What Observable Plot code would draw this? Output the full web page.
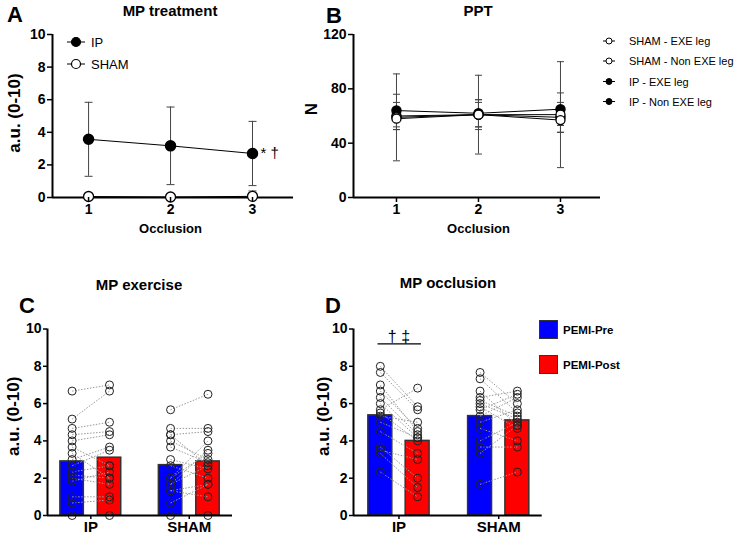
<!DOCTYPE html>
<html><head><meta charset="utf-8">
<script src="https://cdn.jsdelivr.net/npm/d3@7"></script>
<script src="https://cdn.jsdelivr.net/npm/@observablehq/plot@0.6"></script>
<style>
body{margin:0;background:#fff;}
#wrap{position:relative;width:749px;height:534px;overflow:hidden;background:#fff;font-family:"Liberation Sans",Arial,sans-serif;}
.p{position:absolute;}
#overlay{position:absolute;left:0;top:0;pointer-events:none;}
</style></head><body><div id="wrap"></div>
<script>
// ---------- Panel A: MP treatment (a.u. 0-10) ----------
const occlusions = [1, 2, 3];
const treatIPMean = [3.57, 3.17, 2.70];
const treatIPSD = [2.27, 2.38, 1.97];
const treatShamMean = [0.06, 0.03, 0.07];
const treatShamSD = [0.20, 0.10, 0.33];

// ---------- Panel B: PPT (N) ----------
const pptSeries = ["SHAM - EXE leg", "SHAM - Non EXE leg", "IP - EXE leg", "IP - Non EXE leg"];
const pptShamExeMean = [59, 61, 61], pptShamExeSD = [32, 29, 39];
const pptShamNonMean = [58, 61, 57], pptShamNonSD = [8, 9, 9];
const pptIPExeMean = [64, 62, 65], pptIPExeSD = [12, 10, 12];
const pptIPNonMean = [60, 61, 59], pptIPNonSD = [10, 11, 11];

// ---------- Panels C & D ----------
const groups = ["IP", "SHAM"];
const phases = ["PEMI-Pre", "PEMI-Post"];

// C: MP exercise
const exMeans = [2.9, 3.1, 2.7, 2.9]; // IP-Pre, IP-Post, SHAM-Pre, SHAM-Post
const exIPPre   = [6.67, 5.17, 4.67, 4.33, 4.0, 3.67, 3.33, 3.0, 2.67, 2.33, 2.17, 2.0, 1.83, 1.0, 0.67, 0];
const exIPPost  = [7.0, 6.67, 5.0, 4.5, 4.33, 2.67, 2.0, 3.67, 3.5, 2.67, 2.0, 1.67, 2.33, 1.0, 0.83, 0];
const exShamPre = [5.67, 4.67, 4.33, 4.33, 4.0, 3.67, 3.0, 2.67, 2.0, 2.0, 1.67, 1.67, 1.33, 1.33, 0.67, 0];
const exShamPost= [6.5, 4.67, 4.5, 2.67, 3.0, 2.83, 2.5, 2.0, 3.33, 4.0, 3.5, 2.67, 1.67, 1.0, 1.67, 0];

// D: MP occlusion
const occMeans = [5.37, 4.0, 5.33, 5.1];
const occIPPre   = [8.0, 7.67, 7.0, 6.67, 6.33, 6.0, 5.67, 5.5, 5.33, 5.0, 4.5, 3.67, 3.5, 3.33, 2.33];
const occIPPost  = [5.83, 5.67, 4.5, 4.67, 4.33, 4.17, 6.83, 4.0, 5.0, 4.17, 3.33, 2.0, 3.0, 1.5, 1.0];
const occShamPre = [7.67, 7.33, 6.67, 6.33, 6.17, 6.0, 5.83, 5.67, 5.33, 5.0, 4.67, 4.0, 3.67, 3.33, 1.67];
const occShamPost= [6.0, 5.5, 4.83, 6.67, 5.33, 5.17, 4.67, 6.5, 6.33, 5.67, 4.0, 5.0, 3.67, 4.83, 2.33];

const FONT = '"Liberation Sans", Arial, Helvetica, sans-serif';
const baseStyle = {fontFamily: FONT, fontSize: "14px", fontWeight: "bold", color: "black", background: "transparent", overflow: "visible"};
const capSym = {draw(ctx, size) { const w = Math.sqrt(size / Math.PI); ctx.moveTo(-w, 0); ctx.lineTo(w, 0); }};

const wrap = document.getElementById("wrap");
function place(el, left, top) {
  const d = document.createElement("div");
  d.className = "p"; d.style.left = left + "px"; d.style.top = top + "px";
  d.appendChild(el); wrap.appendChild(d);
}

// ---------- Panel A ----------
const rowsA = [];
occlusions.forEach((o, i) => {
  rowsA.push({occ: o, group: "IP", mean: treatIPMean[i], sd: treatIPSD[i]});
  rowsA.push({occ: o, group: "SHAM", mean: treatShamMean[i], sd: treatShamSD[i]});
});
const xDomA = [0.56, 3.5];
const plotA = Plot.plot({
  width: 300, height: 240, marginLeft: 52, marginRight: 7, marginTop: 34, marginBottom: 43,
  style: baseStyle,
  x: {domain: xDomA, label: null},
  y: {domain: [0, 10], label: null},
  marks: [
    Plot.ruleX(rowsA, {x: "occ", y1: d => Math.max(0, d.mean - d.sd), y2: d => d.mean + d.sd, stroke: "#444", strokeWidth: 1}),
    Plot.dot(rowsA, {x: "occ", y: d => d.mean + d.sd, symbol: capSym, r: 4, fill: "none", stroke: "#444", strokeWidth: 1}),
    Plot.dot(rowsA.filter(d => d.mean - d.sd > 0), {x: "occ", y: d => d.mean - d.sd, symbol: capSym, r: 4, fill: "none", stroke: "#444", strokeWidth: 1}),
    Plot.line(rowsA, {x: "occ", y: "mean", z: "group", stroke: "black", strokeWidth: 1}),
    Plot.ruleY([0], {strokeWidth: 2}),
    Plot.ruleX([xDomA[0]], {strokeWidth: 2}),
    Plot.dot(rowsA.filter(d => d.group === "SHAM"), {x: "occ", y: "mean", r: 5, fill: "white", stroke: "black", strokeWidth: 1.3}),
    Plot.dot(rowsA.filter(d => d.group === "IP"), {x: "occ", y: "mean", r: 5, fill: "black", stroke: "black"}),
    Plot.axisY({ticks: [0, 2, 4, 6, 8, 10], tickSize: 5, tickPadding: 2, strokeWidth: 1.5}),
    Plot.axisX({ticks: occlusions, tickFormat: d => String(d), tickSize: 5, tickPadding: 2, strokeWidth: 1.5}),
    Plot.text(["a.u. (0-10)"], {frameAnchor: "left", rotate: -90, textAnchor: "middle", lineAnchor: "middle", dx: -38, dy: -3, fontSize: 17}),
    Plot.text(["Occlusion"], {x: [2], frameAnchor: "bottom", textAnchor: "middle", lineAnchor: "middle", dy: 31, fontSize: 13}),
    Plot.text(rowsA.filter(d => d.group === "IP" && d.occ === 3), {x: "occ", y: "mean", text: () => "* †", textAnchor: "start", lineAnchor: "middle", dx: 8, dy: 0, fontSize: 15, fontWeight: "normal", fill: "black"})
  ]
});
place(plotA, 0, 0);

// ---------- Panel B ----------
const pptMeans = [pptShamExeMean, pptShamNonMean, pptIPExeMean, pptIPNonMean];
const pptSDs = [pptShamExeSD, pptShamNonSD, pptIPExeSD, pptIPNonSD];
const rowsB = [];
pptSeries.forEach((s, si) => occlusions.forEach((o, i) => rowsB.push({series: s, ip: s.startsWith("IP"), occ: o, mean: pptMeans[si][i], sd: pptSDs[si][i]})));
const xDomB = [0.476, 3.488];
const plotB = Plot.plot({
  width: 300, height: 240, marginLeft: 53, marginRight: 0, marginTop: 34, marginBottom: 43,
  style: baseStyle,
  x: {domain: xDomB, label: null},
  y: {domain: [0, 120], label: null},
  marks: [
    Plot.ruleX(rowsB, {x: "occ", y1: d => d.mean - d.sd, y2: d => d.mean + d.sd, stroke: "#444", strokeWidth: 1}),
    Plot.dot(rowsB, {x: "occ", y: d => d.mean + d.sd, symbol: capSym, r: 3.5, fill: "none", stroke: "#444", strokeWidth: 1}),
    Plot.dot(rowsB, {x: "occ", y: d => d.mean - d.sd, symbol: capSym, r: 3.5, fill: "none", stroke: "#444", strokeWidth: 1}),
    Plot.line(rowsB, {x: "occ", y: "mean", z: "series", stroke: "black", strokeWidth: 1}),
    Plot.ruleY([0], {strokeWidth: 2}),
    Plot.ruleX([xDomB[0]], {strokeWidth: 2}),
    Plot.dot(rowsB.filter(d => d.ip), {x: "occ", y: "mean", r: 4.5, fill: "black", stroke: "black"}),
    Plot.dot(rowsB.filter(d => !d.ip), {x: "occ", y: "mean", r: 4.5, fill: "white", stroke: "black", strokeWidth: 1.3}),
    Plot.axisY({ticks: [0, 40, 80, 120], tickSize: 5, tickPadding: 2, strokeWidth: 1.5}),
    Plot.axisX({ticks: occlusions, tickFormat: d => String(d), tickSize: 5, tickPadding: 2, strokeWidth: 1.5}),
    Plot.text(["N"], {frameAnchor: "left", rotate: -90, textAnchor: "middle", lineAnchor: "middle", dx: -42, dy: -7, fontSize: 17}),
    Plot.text(["Occlusion"], {x: [2], frameAnchor: "bottom", textAnchor: "middle", lineAnchor: "middle", dy: 31, fontSize: 13})
  ]
});
place(plotB, 300, 0);

// ---------- Panels C & D ----------
function pairedPlot({means, pre, post, xDom, off, half, width, marginRight, yTitleDx, sig}) {
  const bars = [];
  groups.forEach((g, gi) => phases.forEach((p, pi) => bars.push({g, gi, p, pi, mean: means[gi * 2 + pi]})));
  const links = [], dots = [];
  groups.forEach((g, gi) => {
    pre[gi].forEach((v, i) => {
      links.push({x1: gi - off, y1: v, x2: gi + off, y2: post[gi][i]});
      dots.push({x: gi - off, y: v});
      dots.push({x: gi + off, y: post[gi][i]});
    });
  });
  const marks = [
    Plot.rectY(bars, {x1: d => d.gi + (d.pi ? off : -off) - half, x2: d => d.gi + (d.pi ? off : -off) + half, y1: 0, y2: "mean", fill: "p", stroke: "#333", strokeWidth: 1.5}),
    Plot.link(links, {x1: "x1", y1: "y1", x2: "x2", y2: "y2", stroke: "#9a9a9a", strokeWidth: 1, strokeDasharray: "1.5,1.5"}),
    Plot.dot(dots, {x: "x", y: "y", r: 4, fill: "none", stroke: "#222", strokeWidth: 1}),
    Plot.ruleY([0], {strokeWidth: 2}),
    Plot.ruleX([xDom[0]], {strokeWidth: 2}),
    Plot.axisY({ticks: [0, 2, 4, 6, 8, 10], tickSize: 4, tickPadding: 2, strokeWidth: 1.5}),
    Plot.axisX({ticks: [0, 1], tickFormat: i => groups[i], tickSize: 4, tickPadding: 2, strokeWidth: 1.5, fontSize: 15}),
    Plot.text(["a.u. (0-10)"], {frameAnchor: "left", rotate: -90, textAnchor: "middle", lineAnchor: "middle", dx: yTitleDx, dy: -6, fontSize: 17})
  ];
  if (sig) {
    marks.push(Plot.ruleY([sig.y], {x1: sig.x1, x2: sig.x2, stroke: "black", strokeWidth: 1.2}));
    marks.push(Plot.text([sig], {x: "x", y: "y", text: "label", textAnchor: "middle", lineAnchor: "middle", dy: -7, fontSize: 16, fontWeight: "normal", fill: "black"}));
  }
  return Plot.plot({
    width, height: 244, marginLeft: 47, marginRight, marginTop: 38.5, marginBottom: 19,
    style: baseStyle,
    x: {domain: xDom, label: null},
    y: {domain: [0, 10], label: null},
    color: {domain: phases, range: ["#0000ff", "#ff0000"]},
    marks
  });
}

const plotC = pairedPlot({
  means: exMeans, pre: [exIPPre, exShamPre], post: [exIPPost, exShamPost],
  xDom: [-0.44, 1.439], off: 0.19, half: 0.119, width: 240, marginRight: 8, yTitleDx: -33.5
});
place(plotC, 0, 290);

const plotD = pairedPlot({
  means: occMeans, pre: [occIPPre, occShamPre], post: [occIPPost, occShamPost],
  xDom: [-0.456, 1.436], off: 0.187, half: 0.12, width: 240, marginRight: 4.3, yTitleDx: -30,
  sig: {x: 0, y: 9.2, x1: -0.21, x2: 0.225, label: "† ‡"}
});
place(plotD, 306, 290);

// ---------- Titles, panel letters, legends ----------
const NS = "http://www.w3.org/2000/svg";
const ov = document.createElementNS(NS, "svg");
ov.setAttribute("id", "overlay"); ov.setAttribute("width", 749); ov.setAttribute("height", 534);
ov.setAttribute("font-family", FONT);
function T(txt, x, y, size, weight, anchor) {
  const t = document.createElementNS(NS, "text");
  t.setAttribute("x", x); t.setAttribute("y", y); t.setAttribute("font-size", size);
  t.setAttribute("font-weight", weight); t.setAttribute("text-anchor", anchor || "start");
  t.setAttribute("dominant-baseline", "central"); t.textContent = txt; ov.appendChild(t);
}
function E(tag, attrs) {
  const e = document.createElementNS(NS, tag);
  for (const k in attrs) e.setAttribute(k, attrs[k]);
  ov.appendChild(e);
}
// titles
T("MP treatment", 170, 10, 15, "bold", "middle");
T("PPT", 478, 10, 15, "bold", "middle");
T("MP exercise", 139, 284, 15, "bold", "middle");
T("MP occlusion", 448, 282, 15, "bold", "middle");
// panel letters
T("A", 7, 14, 22, "bold");
T("B", 326, 15, 22, "bold");
T("C", 19, 305, 22, "bold");
T("D", 325, 305, 22, "bold");
// legend A
[["IP", 42, "black"], ["SHAM", 64, "white"]].forEach(([lab, y, f]) => {
  E("line", {x1: 67, x2: 85, y1: y, y2: y, stroke: "black", "stroke-width": 1});
  E("circle", {cx: 76, cy: y, r: 4.5, fill: f, stroke: "black", "stroke-width": 1.2});
  T(lab, 91, y, 13, "normal");
});
// legend B
pptSeries.forEach((s, i) => {
  const y = [41, 61, 81.5, 101.5][i];
  const f = s.startsWith("IP") ? "black" : "white";
  E("line", {x1: 603, x2: 615, y1: y, y2: y, stroke: "black", "stroke-width": 1});
  E("circle", {cx: 609, cy: y, r: 3, fill: f, stroke: "black", "stroke-width": 1});
  T(s, 629, y, 11, "normal");
});
// legend D
phases.forEach((p, i) => {
  const y = [320.5, 355.5][i];
  E("rect", {x: 539.5, y, width: 18, height: 18, fill: ["#0000ff", "#ff0000"][i], stroke: "#333", "stroke-width": 1});
  T(p, 563, y + 9.5, 11.5, "bold");
});
wrap.appendChild(ov);
</script></body></html>
